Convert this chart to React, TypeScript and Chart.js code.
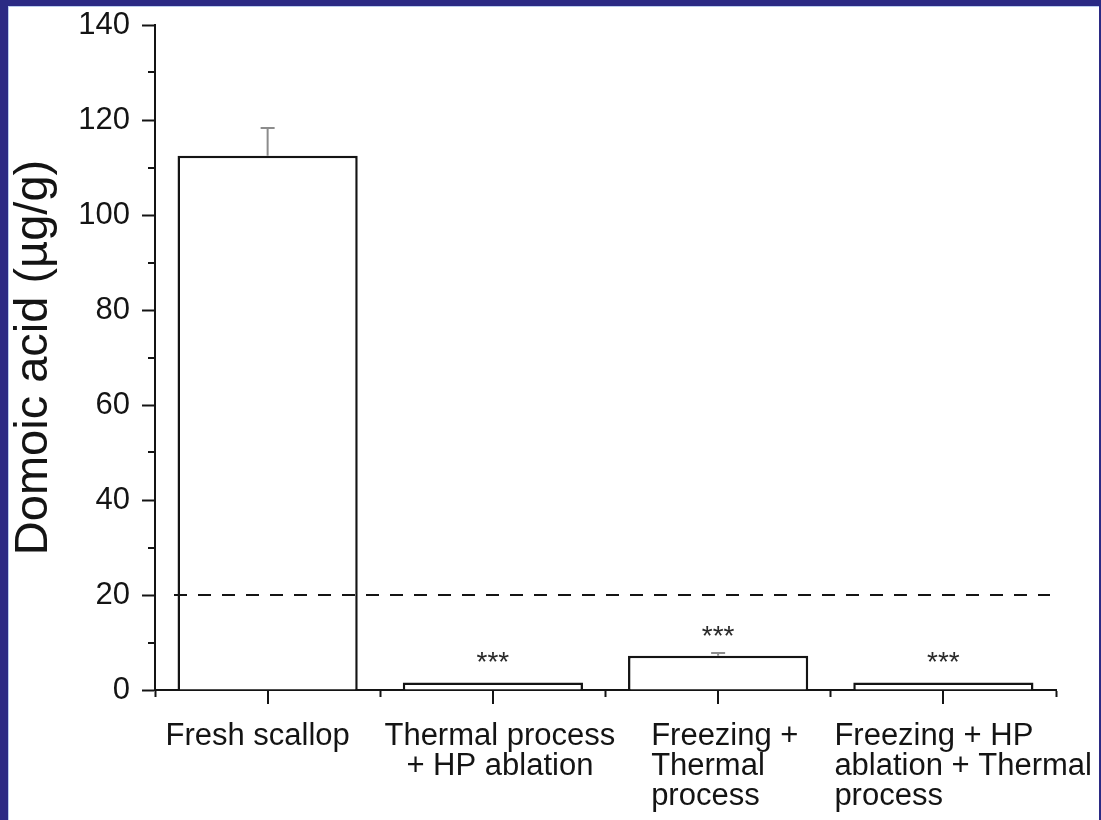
import React, { useEffect, useRef } from 'react';
import { Chart, registerables } from 'chart.js';

Chart.register(...registerables);

// ---- data ----
const categories: string[][] = [
  ['Fresh scallop'],
  ['Thermal process', '+ HP ablation'],
  ['Freezing +', 'Thermal', 'process'],
  ['Freezing + HP', 'ablation + Thermal', 'process'],
];
const values: number[] = [112.5, 1.6, 7.2, 1.6];
const errors: number[] = [5.8, 0, 0.6, 0];
const significance: string[] = ['', '***', '***', '***'];
const yTicks: number[] = [0, 20, 40, 60, 80, 100, 120, 140];
const yMinorTicks: number[] = [10, 30, 50, 70, 90, 110, 130];
const thresholdValue = 20;
const yTitle = 'Domoic acid (µg/g)';

// ---- styles ----
const FONT = "'Liberation Sans', Arial, Helvetica, sans-serif";
const INK = '#141414';
const labelLayout = [
  { align: 'center', dx: -10 },
  { align: 'center', dx: 7 },
  { align: 'left', dx: -67 },
  { align: 'left', dx: -109 },
];

const decorPlugin = {
  id: 'decor',
  afterDatasetsDraw(chart: any) {
    const { ctx, chartArea, scales } = chart;
    const xs = scales.x;
    const ys = scales.y;
    ctx.save();
    // threshold line
    ctx.strokeStyle = INK;
    ctx.lineWidth = 2;
    ctx.setLineDash([13, 11]);
    const ty = ys.getPixelForValue(thresholdValue);
    ctx.beginPath();
    ctx.moveTo(chartArea.left + 19, ty);
    ctx.lineTo(chartArea.right - 6, ty);
    ctx.stroke();
    ctx.setLineDash([]);
    // error bars
    ctx.strokeStyle = '#8c8c8c';
    ctx.lineWidth = 2;
    values.forEach((v, i) => {
      if (!errors[i]) return;
      const cx = xs.getPixelForValue(i);
      const y0 = ys.getPixelForValue(v);
      const y1 = ys.getPixelForValue(v + errors[i]);
      ctx.beginPath();
      ctx.moveTo(cx, y0);
      ctx.lineTo(cx, y1);
      ctx.moveTo(cx - 7, y1);
      ctx.lineTo(cx + 7, y1);
      ctx.stroke();
    });
    // significance marks
    ctx.fillStyle = '#2a2a2a';
    ctx.font = `28px ${FONT}`;
    ctx.textAlign = 'center';
    ctx.textBaseline = 'alphabetic';
    significance.forEach((s, i) => {
      if (!s) return;
      const cx = xs.getPixelForValue(i);
      const top = ys.getPixelForValue(values[i]);
      ctx.fillText(s, cx, top - 11);
    });
    ctx.restore();
  },
  afterDraw(chart: any) {
    const { ctx, chartArea, scales } = chart;
    const xs = scales.x;
    const ys = scales.y;
    ctx.save();
    ctx.strokeStyle = INK;
    ctx.lineWidth = 2;
    // minor y ticks
    yMinorTicks.forEach((v) => {
      const py = Math.round(ys.getPixelForValue(v));
      ctx.beginPath();
      ctx.moveTo(chartArea.left - 7, py);
      ctx.lineTo(chartArea.left, py);
      ctx.stroke();
    });
    // category centre ticks
    categories.forEach((_, i) => {
      const px = Math.round(xs.getPixelForValue(i));
      ctx.beginPath();
      ctx.moveTo(px, chartArea.bottom);
      ctx.lineTo(px, chartArea.bottom + 14);
      ctx.stroke();
    });
    // category labels
    ctx.fillStyle = INK;
    ctx.font = `31px ${FONT}`;
    ctx.textBaseline = 'alphabetic';
    categories.forEach((lines, i) => {
      const cx = xs.getPixelForValue(i);
      const lay = labelLayout[i];
      ctx.textAlign = lay.align as CanvasTextAlign;
      lines.forEach((line, j) => {
        ctx.fillText(line, cx + lay.dx, chartArea.bottom + 55 + j * 30);
      });
    });
    ctx.restore();
  },
};

export default function App() {
  const ref = useRef<HTMLCanvasElement | null>(null);
  useEffect(() => {
    if (!ref.current) return;
    const chart = new Chart(ref.current, {
      type: 'bar',
      data: {
        labels: categories.map((c) => c.join(' ')),
        datasets: [
          {
            data: values,
            backgroundColor: '#ffffff',
            borderColor: INK,
            borderWidth: 2.5,
            categoryPercentage: 1,
            barPercentage: 0.8,
          },
        ],
      },
      options: {
        responsive: false,
        animation: false,
        layout: { padding: { left: 0, top: 25, right: 45, bottom: 0 } },
        plugins: { legend: { display: false }, tooltip: { enabled: false } },
        scales: {
          x: {
            type: 'category',
            offset: true,
            grid: {
              offset: true,
              drawOnChartArea: false,
              drawTicks: true,
              tickLength: 7,
              tickWidth: 2,
              tickColor: INK,
            },
            border: { display: true, color: INK, width: 2 },
            ticks: { display: false },
            afterFit: (s: any) => {
              s.height = 130;
              s.paddingLeft = 0;
              s.paddingRight = 0;
            },
          },
          y: {
            min: 0,
            max: 140,
            afterBuildTicks: (s: any) => {
              s.ticks = yTicks.map((v) => ({ value: v }));
            },
            ticks: {
              font: { family: FONT, size: 31 },
              color: INK,
              padding: 12,
            },
            grid: {
              drawOnChartArea: false,
              drawTicks: true,
              tickLength: 13,
              tickWidth: 2,
              tickColor: INK,
            },
            border: { display: true, color: INK, width: 2 },
            title: {
              display: true,
              text: yTitle,
              font: { family: FONT, size: 47 },
              color: INK,
              padding: { top: 6, bottom: 0 },
            },
            afterFit: (s: any) => {
              s.width = 155;
              s.paddingTop = 0;
              s.paddingBottom = 0;
            },
          },
        },
      },
      plugins: [decorPlugin],
    });
    return () => chart.destroy();
  }, []);

  return (
    <div style={{ position: 'fixed', left: 0, top: 0, width: 1101, height: 820, background: '#2b2a84', overflow: 'hidden' }}>
      <div
        style={{
          position: 'absolute',
          left: 8,
          top: 6,
          width: 1091,
          height: 814,
          background: '#ffffff',
          borderTop: '1px solid #b9cdef',
          borderLeft: '1px solid #b9cdef',
          boxSizing: 'border-box',
        }}
      />
      <canvas ref={ref} width={1101} height={820} style={{ position: 'absolute', left: 0, top: 0 }} />
    </div>
  );
}
